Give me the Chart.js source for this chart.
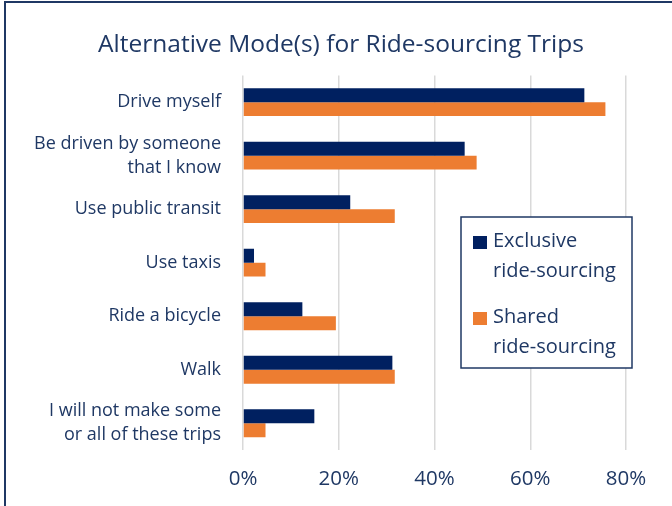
<!DOCTYPE html>
<html>
<head>
<meta charset="utf-8">
<script src="https://cdn.jsdelivr.net/npm/chart.js@4.4.0/dist/chart.umd.min.js"></script>
<style>
  html, body { margin: 0; padding: 0; background: #fff; }
  #wrap { position: relative; width: 672px; height: 506px; overflow: hidden; }
  #frame { position: absolute; left: 4px; top: 1px; width: 800px; height: 600px;
           border-left: 2px solid #1F3864; border-top: 2px solid #1F3864; pointer-events: none; }
</style>
</head>
<body>
<div id="wrap">
  <canvas id="chart" width="672" height="506"></canvas>
  <div id="frame"></div>
</div>
<script>
const TITLE = 'Alternative Mode(s) for Ride-sourcing Trips';
const categories = [
  'Drive myself',
  ['Be driven by someone', 'that I know'],
  'Use public transit',
  'Use taxis',
  'Ride a bicycle',
  'Walk',
  ['I will not make some', 'or all of these trips']
];
const exclusiveValues = [71.3, 46.3, 22.4, 2.3, 12.4, 31.2, 14.9];
const sharedValues = [75.7, 48.8, 31.7, 4.7, 19.4, 31.7, 4.7];
const seriesNames = [['Exclusive', 'ride-sourcing'], ['Shared', 'ride-sourcing']];
const xTicks = [0, 20, 40, 60, 80];

const NAVY = '#002060';
const ORANGE = '#ED7D31';
const TEXT = '#1F3864';
const FONT = "'Open Sans', 'Noto Sans', sans-serif";

// legend box drawn inside the plot, two-line labels
const boxLegend = {
  id: 'boxLegend',
  afterDraw(chart){
    const ctx = chart.ctx;
    const x = 461, y = 217, w = 171, h = 151;
    ctx.save();
    ctx.fillStyle = '#fff';
    ctx.fillRect(x, y, w, h);
    ctx.strokeStyle = TEXT;
    ctx.lineWidth = 1.5;
    ctx.strokeRect(x, y, w, h);
    ctx.font = '20px ' + FONT;
    ctx.textBaseline = 'middle';
    ctx.textAlign = 'left';
    chart.data.datasets.forEach((ds, i) => {
      const top = i === 0 ? 241 : 317;
      ctx.fillStyle = ds.backgroundColor;
      ctx.fillRect(473, top - 5, 14, 13);
      ctx.fillStyle = TEXT;
      seriesNames[i].forEach((line, j) => ctx.fillText(line, 493, top + j * 30));
    });
    ctx.restore();
  }
};

new Chart(document.getElementById('chart'), {
  type: 'bar',
  data: {
    labels: categories,
    datasets: [
      { label: 'Exclusive ride-sourcing', data: exclusiveValues, backgroundColor: NAVY },
      { label: 'Shared ride-sourcing', data: sharedValues, backgroundColor: ORANGE }
    ]
  },
  options: {
    indexAxis: 'y',
    responsive: false,
    animation: false,
    categoryPercentage: 0.52,
    barPercentage: 1.0,
    layout: { padding: { left: 10, right: 0, top: 0, bottom: 0 } },
    plugins: {
      legend: { display: false },
      tooltip: { enabled: false },
      title: {
        display: true,
        text: TITLE,
        color: TEXT,
        font: { family: FONT, size: 24.5, weight: 'normal' },
        padding: { top: 30, bottom: 16 }
      }
    },
    scales: {
      x: {
        min: 0,
        max: 80,
        afterBuildTicks(scale){ scale.ticks = xTicks.map(v => ({ value: v })); },
        afterFit(scale){ scale.height = 56; },
        grid: { color: '#D9D9D9', lineWidth: 1.5, drawTicks: false },
        border: { display: false },
        ticks: {
          color: TEXT,
          padding: 17,
          font: { family: FONT, size: 20.5 },
          callback: v => v + '%'
        }
      },
      y: {
        afterFit(scale){ scale.width = 233; },
        grid: { display: false, drawTicks: false },
        border: { display: false },
        ticks: {
          color: TEXT,
          padding: 22,
          font: { family: FONT, size: 18, lineHeight: 1.33 }
        }
      },
      // empty right-hand axis, only reserves the margin right of the plot
      yRight: {
        type: 'category',
        position: 'right',
        afterFit(scale){ scale.width = 46; },
        grid: { display: false, drawTicks: false },
        border: { display: false },
        ticks: { display: false }
      }
    }
  },
  plugins: [boxLegend]
});
</script>
</body>
</html>
